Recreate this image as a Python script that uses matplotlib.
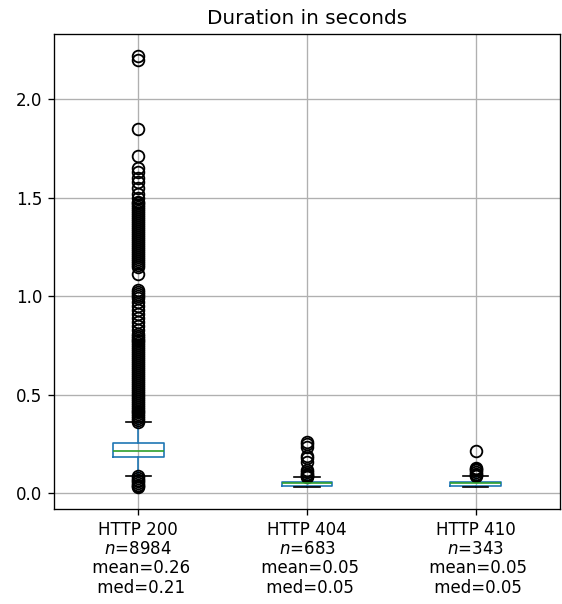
import matplotlib
matplotlib.use("Agg")
import matplotlib.pyplot as plt

title = "Duration in seconds"
categories = ["HTTP 200", "HTTP 404", "HTTP 410"]
counts = [8984, 683, 343]
means = [0.26, 0.05, 0.05]
medians = [0.213, 0.05, 0.05]
q1s = [0.183, 0.037, 0.037]
q3s = [0.254, 0.056, 0.056]
whislo = [0.09, 0.03, 0.03]
whishi = [0.36, 0.081, 0.086]

fliers_200 = [2.22, 2.20, 1.85, 1.71, 1.65, 1.63, 1.60, 1.58, 1.55, 1.52, 1.50,
              1.48, 1.47, 1.46, 1.45, 1.44, 1.43, 1.42, 1.41, 1.40, 1.39, 1.38,
              1.37, 1.36, 1.35, 1.34, 1.33, 1.32, 1.31, 1.30, 1.29, 1.28, 1.27,
              1.26, 1.25, 1.24, 1.23, 1.22, 1.21, 1.20, 1.19, 1.18, 1.17, 1.16,
              1.15, 1.11, 1.03, 1.02, 1.01, 1.00, 0.99, 0.97, 0.95, 0.93, 0.91,
              0.89, 0.87, 0.85, 0.83, 0.81, 0.80, 0.79, 0.78, 0.77, 0.76, 0.75,
              0.74, 0.73, 0.72, 0.71, 0.70, 0.69, 0.68, 0.67, 0.66, 0.65, 0.64,
              0.63, 0.62, 0.61, 0.60, 0.59, 0.58, 0.57, 0.56, 0.55, 0.54, 0.53,
              0.52, 0.51, 0.50, 0.49, 0.48, 0.47, 0.46, 0.45, 0.44, 0.43, 0.42,
              0.41, 0.40, 0.39, 0.38, 0.37, 0.36,
              0.09, 0.08, 0.07, 0.06, 0.05, 0.04, 0.035, 0.03]
fliers_404 = [0.26, 0.25, 0.235, 0.19, 0.18, 0.16, 0.12, 0.11, 0.10, 0.095,
              0.09, 0.085]
fliers_410 = [0.215, 0.13, 0.125, 0.12, 0.11, 0.10, 0.095, 0.09]
fliers = [fliers_200, fliers_404, fliers_410]

stats = []
for i in range(3):
    stats.append(dict(med=medians[i], q1=q1s[i], q3=q3s[i], whislo=whislo[i],
                      whishi=whishi[i], fliers=fliers[i], mean=means[i]))

labels = [f"{c}\n$n$={n}\n mean={m:.2f}\n med={md:.2f}"
          for c, n, m, md in zip(categories, counts, means, medians)]

fig = plt.figure(figsize=(562 / 120, 604 / 120), dpi=120)
ax = fig.add_axes([54 / 562, 1 - 509 / 604, 506 / 562, 475 / 604])
ax.bxp(stats, positions=[1, 2, 3], widths=0.3,
       boxprops=dict(color="#1f77b4"),
       whiskerprops=dict(color="#1f77b4"),
       medianprops=dict(color="#2ca02c"),
       capprops=dict(color="black"),
       flierprops=dict(marker="o", markerfacecolor="none", markersize=7,
                       markeredgewidth=1.1, markeredgecolor="black"))
ax.set_xticks([1, 2, 3])
ax.set_xticklabels(labels, linespacing=1.1)
ax.set_xlim(0.5, 3.5)
ax.grid(True, color="#b0b0b0")
ax.set_axisbelow(True)
ax.set_title(title, fontsize=12)
fig.savefig("out.png", dpi=120)
